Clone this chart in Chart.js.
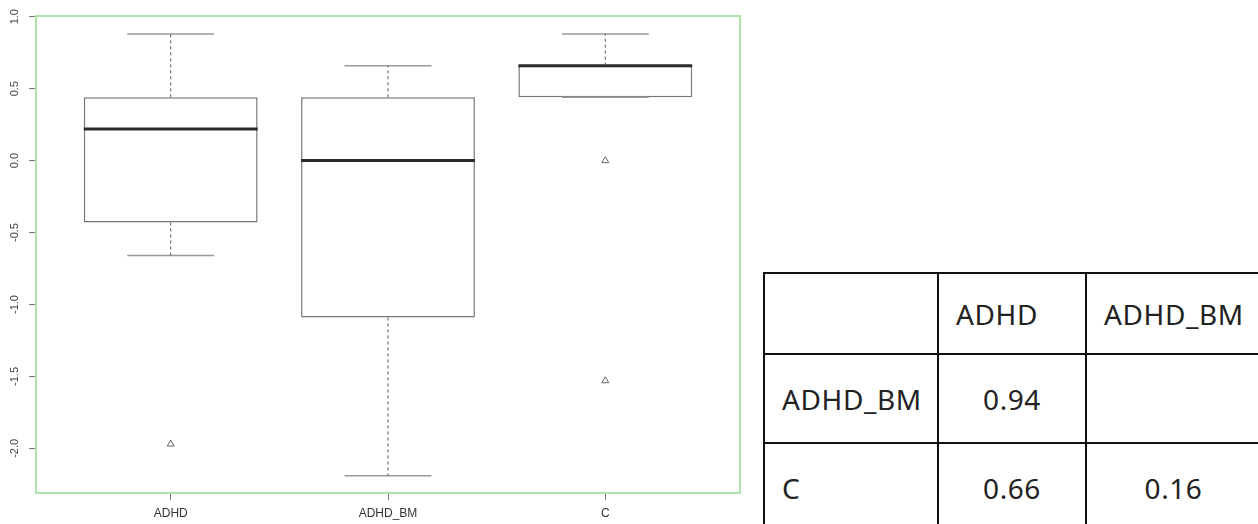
<!DOCTYPE html>
<html>
<head>
<meta charset="utf-8">
<script src="https://cdn.jsdelivr.net/npm/chart.js@4.4.0/dist/chart.umd.min.js"></script>
<style>
html, body { margin: 0; padding: 0; background: #fff; overflow: hidden; width: 1258px; height: 524px; }
#boxChart { position: absolute; left: 0; top: 0; }
#pTable { position: absolute; left: 763px; top: 272px; width: 497px; border-collapse: collapse; table-layout: fixed;
          font-family: "Noto Sans", sans-serif; font-size: 28px; letter-spacing: 0.6px; color: #222; }
#pTable td { border: 2px solid #111; padding: 0 0 0 17px; white-space: nowrap; overflow: hidden; }
#pTable td.num { text-align: center; padding: 0; }
</style>
</head>
<body>
<canvas id="boxChart" width="750" height="524"></canvas>
<table id="pTable"></table>
<script>
// box plot stats
var groups = ['ADHD', 'ADHD_BM', 'C'];
var whiskerLow = [-0.66, -2.19, 0.44];
var q1 = [-0.43, -1.09, 0.44];
var medians = [0.22, 0.00, 0.66];
var q3 = [0.44, 0.44, 0.66];
var whiskerHigh = [0.88, 0.66, 0.88];
var outliers = [[-1.97], [], [0.00, -1.53]];
var yTicks = [-2.0, -1.5, -1.0, -0.5, 0.0, 0.5, 1.0];

// p-value table
var tableCols = ['', 'ADHD', 'ADHD_BM'];
var tableRows = ['ADHD_BM', 'C'];
var pValues = [['0.94', ''], ['0.66', '0.16']];

var colWidths = [174, 148, 175];
var rowHeights = [81, 89, 90];

function buildTable() {
    var html = '<colgroup>';
    for (var w = 0; w < colWidths.length; w++) {
        html += '<col style="width:' + colWidths[w] + 'px">';
    }
    html += '</colgroup><tr style="height:' + rowHeights[0] + 'px">';
    for (var c = 0; c < tableCols.length; c++) {
        html += '<td>' + tableCols[c] + '</td>';
    }
    html += '</tr>';
    for (var r = 0; r < tableRows.length; r++) {
        html += '<tr style="height:' + rowHeights[r + 1] + 'px"><td>' + tableRows[r] + '</td>';
        for (var k = 0; k < pValues[r].length; k++) {
            html += '<td class="num">' + pValues[r][k] + '</td>';
        }
        html += '</tr>';
    }
    document.getElementById('pTable').innerHTML = html;
}
buildTable();

var datasets = [];
datasets.push({
    type: 'bar',
    data: groups.map(function (g, i) { return { x: i + 1, y: [q1[i], q3[i]] }; }),
    backgroundColor: '#fff',
    borderColor: '#777',
    borderWidth: 1.5,
    borderSkipped: false,
    barPercentage: 0.8,
    categoryPercentage: 1,
    order: 10
});

function seg(x1, y1, x2, y2, color, width, dash) {
    return {
        type: 'line',
        data: [{ x: x1, y: y1 }, { x: x2, y: y2 }],
        borderColor: color,
        borderWidth: width,
        borderDash: dash || [],
        pointRadius: 0,
        fill: false,
        order: 1
    };
}

for (var i = 0; i < groups.length; i++) {
    var x = i + 1;
    if (whiskerHigh[i] > q3[i]) datasets.push(seg(x, q3[i], x, whiskerHigh[i], '#555', 1, [3, 3]));
    if (whiskerLow[i] < q1[i]) datasets.push(seg(x, q1[i], x, whiskerLow[i], '#555', 1, [3, 3]));
    datasets.push(seg(x - 0.2, whiskerHigh[i], x + 0.2, whiskerHigh[i], '#999', 1.5));
    datasets.push(seg(x - 0.2, whiskerLow[i], x + 0.2, whiskerLow[i], '#999', 1.5));
    datasets.push(seg(x - 0.4, medians[i], x + 0.4, medians[i], '#2a2a2a', 3));
}

var outPts = [];
outliers.forEach(function (arr, i) {
    arr.forEach(function (v) { outPts.push({ x: i + 1, y: v }); });
});
datasets.push({
    type: 'line',
    data: outPts,
    showLine: false,
    pointStyle: 'triangle',
    pointRadius: 4,
    pointBorderColor: '#666',
    pointBackgroundColor: 'rgba(0,0,0,0)',
    pointBorderWidth: 1,
    order: 0
});

var framePlugin = {
    id: 'frame',
    afterDraw: function (chart) {
        var ctx = chart.ctx;
        var a = chart.chartArea;
        ctx.save();
        ctx.strokeStyle = '#aee4a8';
        ctx.lineWidth = 2;
        ctx.strokeRect(a.left, a.top, a.right - a.left, a.bottom - a.top);
        // rotated y tick labels like R's default axis
        var ys = chart.scales.y;
        ctx.fillStyle = '#444';
        ctx.font = '11px "Liberation Sans", Arial, sans-serif';
        ctx.textAlign = 'center';
        ctx.textBaseline = 'middle';
        yTicks.forEach(function (v) {
            ctx.save();
            ctx.translate(15, ys.getPixelForValue(v));
            ctx.rotate(-Math.PI / 2);
            ctx.fillText(v.toFixed(1), 0, 0);
            ctx.restore();
        });
        ctx.restore();
    }
};

new Chart(document.getElementById('boxChart').getContext('2d'), {
    type: 'bar',
    data: { datasets: datasets },
    options: {
        responsive: false,
        animation: false,
        devicePixelRatio: 1,
        layout: { padding: { top: 16, right: 10, left: 0, bottom: 0 } },
        plugins: { legend: { display: false }, tooltip: { enabled: false } },
        scales: {
            x: {
                type: 'linear',
                offset: false,
                min: 0.38,
                max: 3.62,
                afterBuildTicks: function (scale) {
                    scale.ticks = groups.map(function (g, i) { return { value: i + 1 }; });
                },
                afterFit: function (scale) { scale.height = 31; },
                ticks: {
                    autoSkip: false,
                    maxRotation: 0,
                    padding: 6,
                    color: '#333',
                    font: { family: '"Liberation Sans", Arial, sans-serif', size: 12 },
                    callback: function (v) { return groups[v - 1]; }
                },
                grid: { offset: false, drawOnChartArea: false, drawTicks: true, tickLength: 7, tickColor: '#777' },
                border: { display: false }
            },
            y: {
                type: 'linear',
                min: -2.31,
                max: 1.005,
                afterBuildTicks: function (scale) {
                    scale.ticks = yTicks.map(function (v) { return { value: v }; });
                },
                afterFit: function (scale) { scale.width = 36; },
                ticks: { display: false },
                grid: { drawOnChartArea: false, drawTicks: true, tickLength: 7, tickColor: '#777' },
                border: { display: false }
            }
        }
    },
    plugins: [framePlugin]
});
</script>
</body>
</html>
